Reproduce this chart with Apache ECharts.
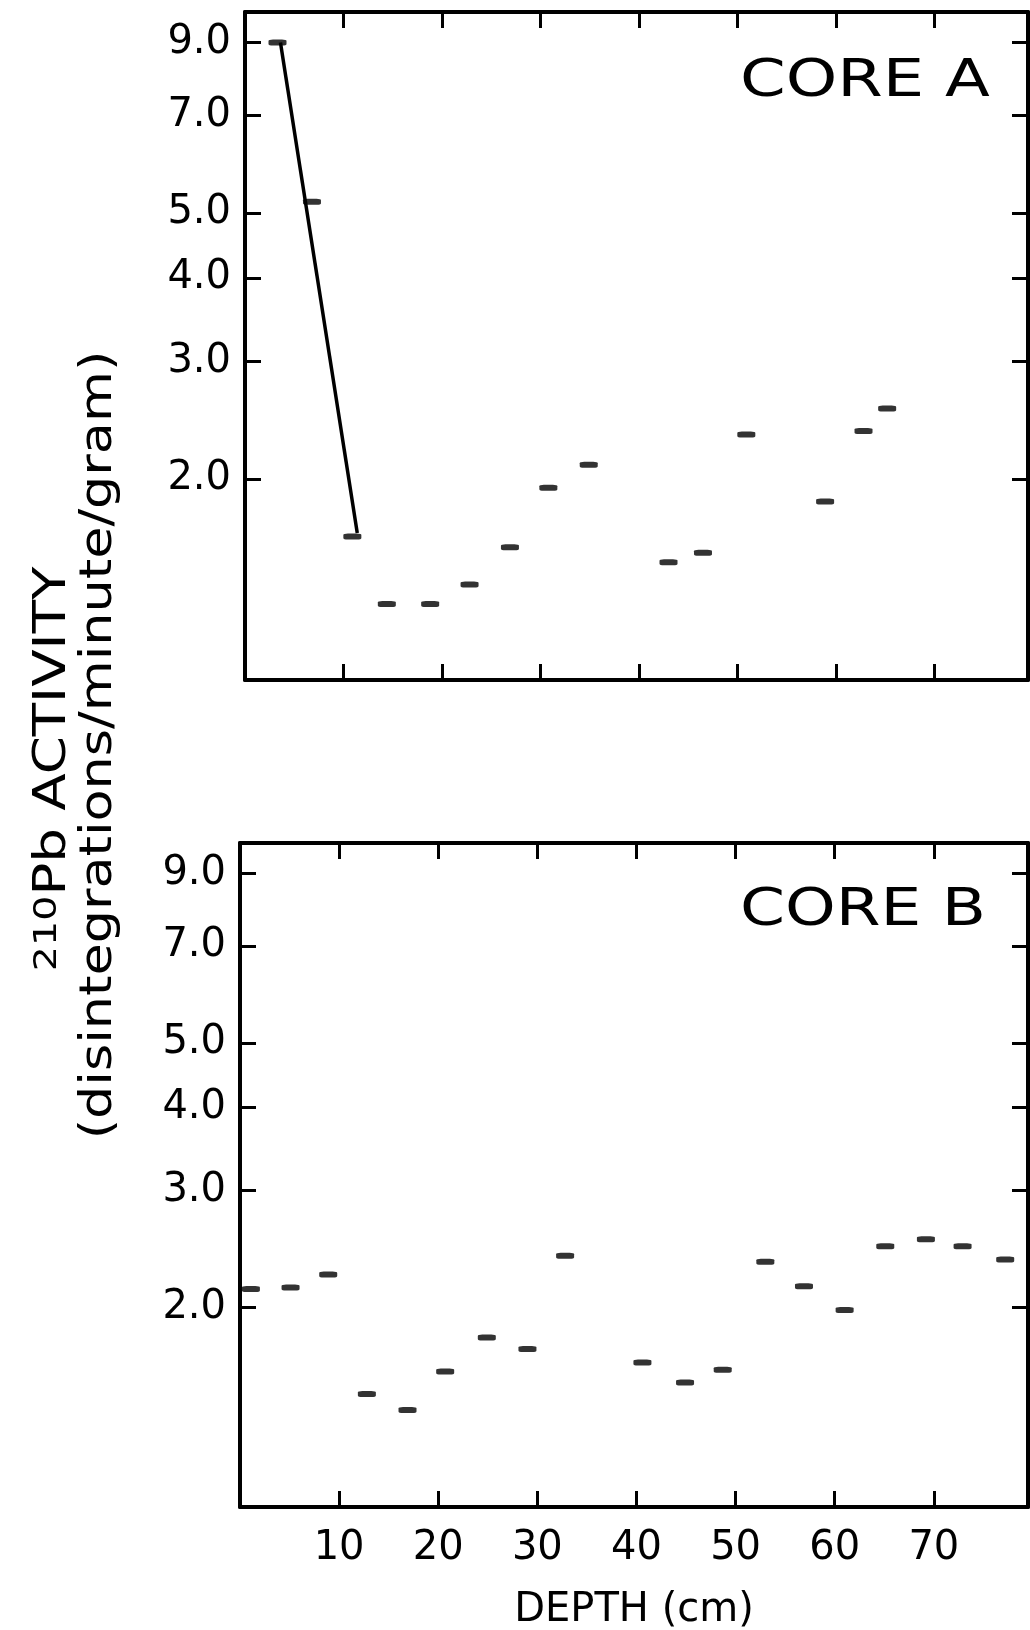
<!DOCTYPE html>
<html>
<head>
<meta charset="utf-8">
<script src="https://cdn.jsdelivr.net/npm/echarts@6/dist/echarts.min.js"></script>
<style>
  html, body { margin: 0; padding: 0; background: #fff; }
  #main { width: 1030px; height: 1630px; }
</style>
</head>
<body>
<div id="main"></div>
<script>
// core A : depth (cm) and 210Pb activity (dpm/g)
var depthA = [3.3, 6.8, 10.9, 14.4, 18.8, 22.8, 26.9, 30.8, 34.9, 43.0, 46.5, 50.9, 58.9, 62.8, 65.2];
var activityA = [9.0, 5.2, 1.64, 1.30, 1.30, 1.39, 1.58, 1.94, 2.10, 1.50, 1.55, 2.33, 1.85, 2.36, 2.55];

// fitted decay line drawn over the top of core A
var fitDepthA = [3.6, 11.4];
var fitActivityA = [9.0, 1.66];

// core B
var depthB = [1.1, 5.1, 8.9, 12.8, 16.9, 20.7, 24.9, 29.0, 32.8, 40.6, 44.9, 48.7, 53.0, 56.9, 61.0, 65.1, 69.2, 72.9, 77.2];
var activityB = [2.13, 2.14, 2.24, 1.48, 1.40, 1.60, 1.80, 1.73, 2.39, 1.65, 1.54, 1.61, 2.34, 2.15, 1.98, 2.47, 2.53, 2.47, 2.36];

var yTicks = [2, 3, 4, 5, 7, 9];
var xTicks = [10, 20, 30, 40, 50, 60, 70];

var FONT = 'DejaVu Sans';
var chart = echarts.init(document.getElementById('main'));

function zip(xs, ys) {
  var out = [];
  for (var i = 0; i < xs.length; i++) out.push([xs[i], ys[i]]);
  return out;
}

function xAxis(g, pos, labels) {
  return {
    type: 'value', gridIndex: g, position: pos,
    min: 0, max: 79.5, interval: 10,
    splitLine: { show: false },
    axisLine: { onZero: false, lineStyle: { color: '#000', width: 4 } },
    axisTick: { inside: true, length: 16, customValues: xTicks, lineStyle: { color: '#000', width: 3 } },
    axisLabel: {
      show: labels, customValues: xTicks, margin: 22,
      color: '#000', fontFamily: FONT, fontSize: 40
    }
  };
}

function yAxis(g, pos, labels) {
  return {
    type: 'log', logBase: 10, gridIndex: g, position: pos,
    min: 1, max: 10,
    splitLine: { show: false },
    minorTick: { show: false },
    axisLine: { onZero: false, lineStyle: { color: '#000', width: 4 } },
    axisTick: { inside: true, length: 16, customValues: yTicks, lineStyle: { color: '#000', width: 3 } },
    axisLabel: {
      show: labels, customValues: yTicks, margin: 14,
      color: '#000', fontFamily: FONT, fontSize: 40,
      formatter: function (v) { return Number(v).toFixed(1); }
    }
  };
}

function dashes(xi, data) {
  return {
    type: 'scatter', xAxisIndex: xi, yAxisIndex: xi,
    data: data, symbol: 'roundRect', symbolSize: [18, 6],
    itemStyle: { color: '#000' }, clip: false, silent: true
  };
}

var option = {
  backgroundColor: '#fff',
  animation: false,
  grid: [
    { left: 245, top: 12, right: 2, height: 668, outerBoundsMode: 'none' },
    { left: 240, top: 843, right: 2, height: 664, outerBoundsMode: 'none' }
  ],
  xAxis: [
    xAxis(0, 'bottom', false),
    xAxis(0, 'top', false),
    Object.assign(xAxis(1, 'bottom', true), {
      name: 'DEPTH (cm)', nameLocation: 'middle', nameGap: 84,
      nameTextStyle: { color: '#000', fontFamily: FONT, fontSize: 40 }
    }),
    xAxis(1, 'top', false)
  ],
  yAxis: [
    yAxis(0, 'left', true),
    yAxis(0, 'right', false),
    yAxis(1, 'left', true),
    yAxis(1, 'right', false)
  ],
  series: [
    dashes(0, zip(depthA, activityA)),
    {
      type: 'line', xAxisIndex: 0, yAxisIndex: 0,
      data: zip(fitDepthA, fitActivityA), symbol: 'none',
      lineStyle: { color: '#000', width: 3.5 }, silent: true
    },
    dashes(2, zip(depthB, activityB))
  ],
  graphic: [
    {
      type: 'text', x: 740, y: 82, scaleX: 1.26,
      style: { text: 'CORE A', fill: '#000', fontFamily: FONT, fontSize: 52, align: 'left', verticalAlign: 'middle' }
    },
    {
      type: 'text', x: 740, y: 911, scaleX: 1.24,
      style: { text: 'CORE B', fill: '#000', fontFamily: FONT, fontSize: 52, align: 'left', verticalAlign: 'middle' }
    },
    {
      type: 'text', x: 54, y: 769, rotation: Math.PI / 2, scaleX: 1.24,
      style: {
        text: '{sup|210}Pb ACTIVITY', fill: '#000', fontFamily: FONT, fontSize: 44,
        align: 'center', verticalAlign: 'middle',
        rich: { sup: { fontFamily: FONT, fontSize: 32, verticalAlign: 'top', fill: '#000' } }
      }
    },
    {
      type: 'text', x: 100, y: 745, rotation: Math.PI / 2, scaleX: 1.19,
      style: {
        text: '(disintegrations/minute/gram)', fill: '#000', fontFamily: FONT, fontSize: 44,
        align: 'center', verticalAlign: 'middle'
      }
    }
  ]
};

chart.setOption(option);
</script>
</body>
</html>
